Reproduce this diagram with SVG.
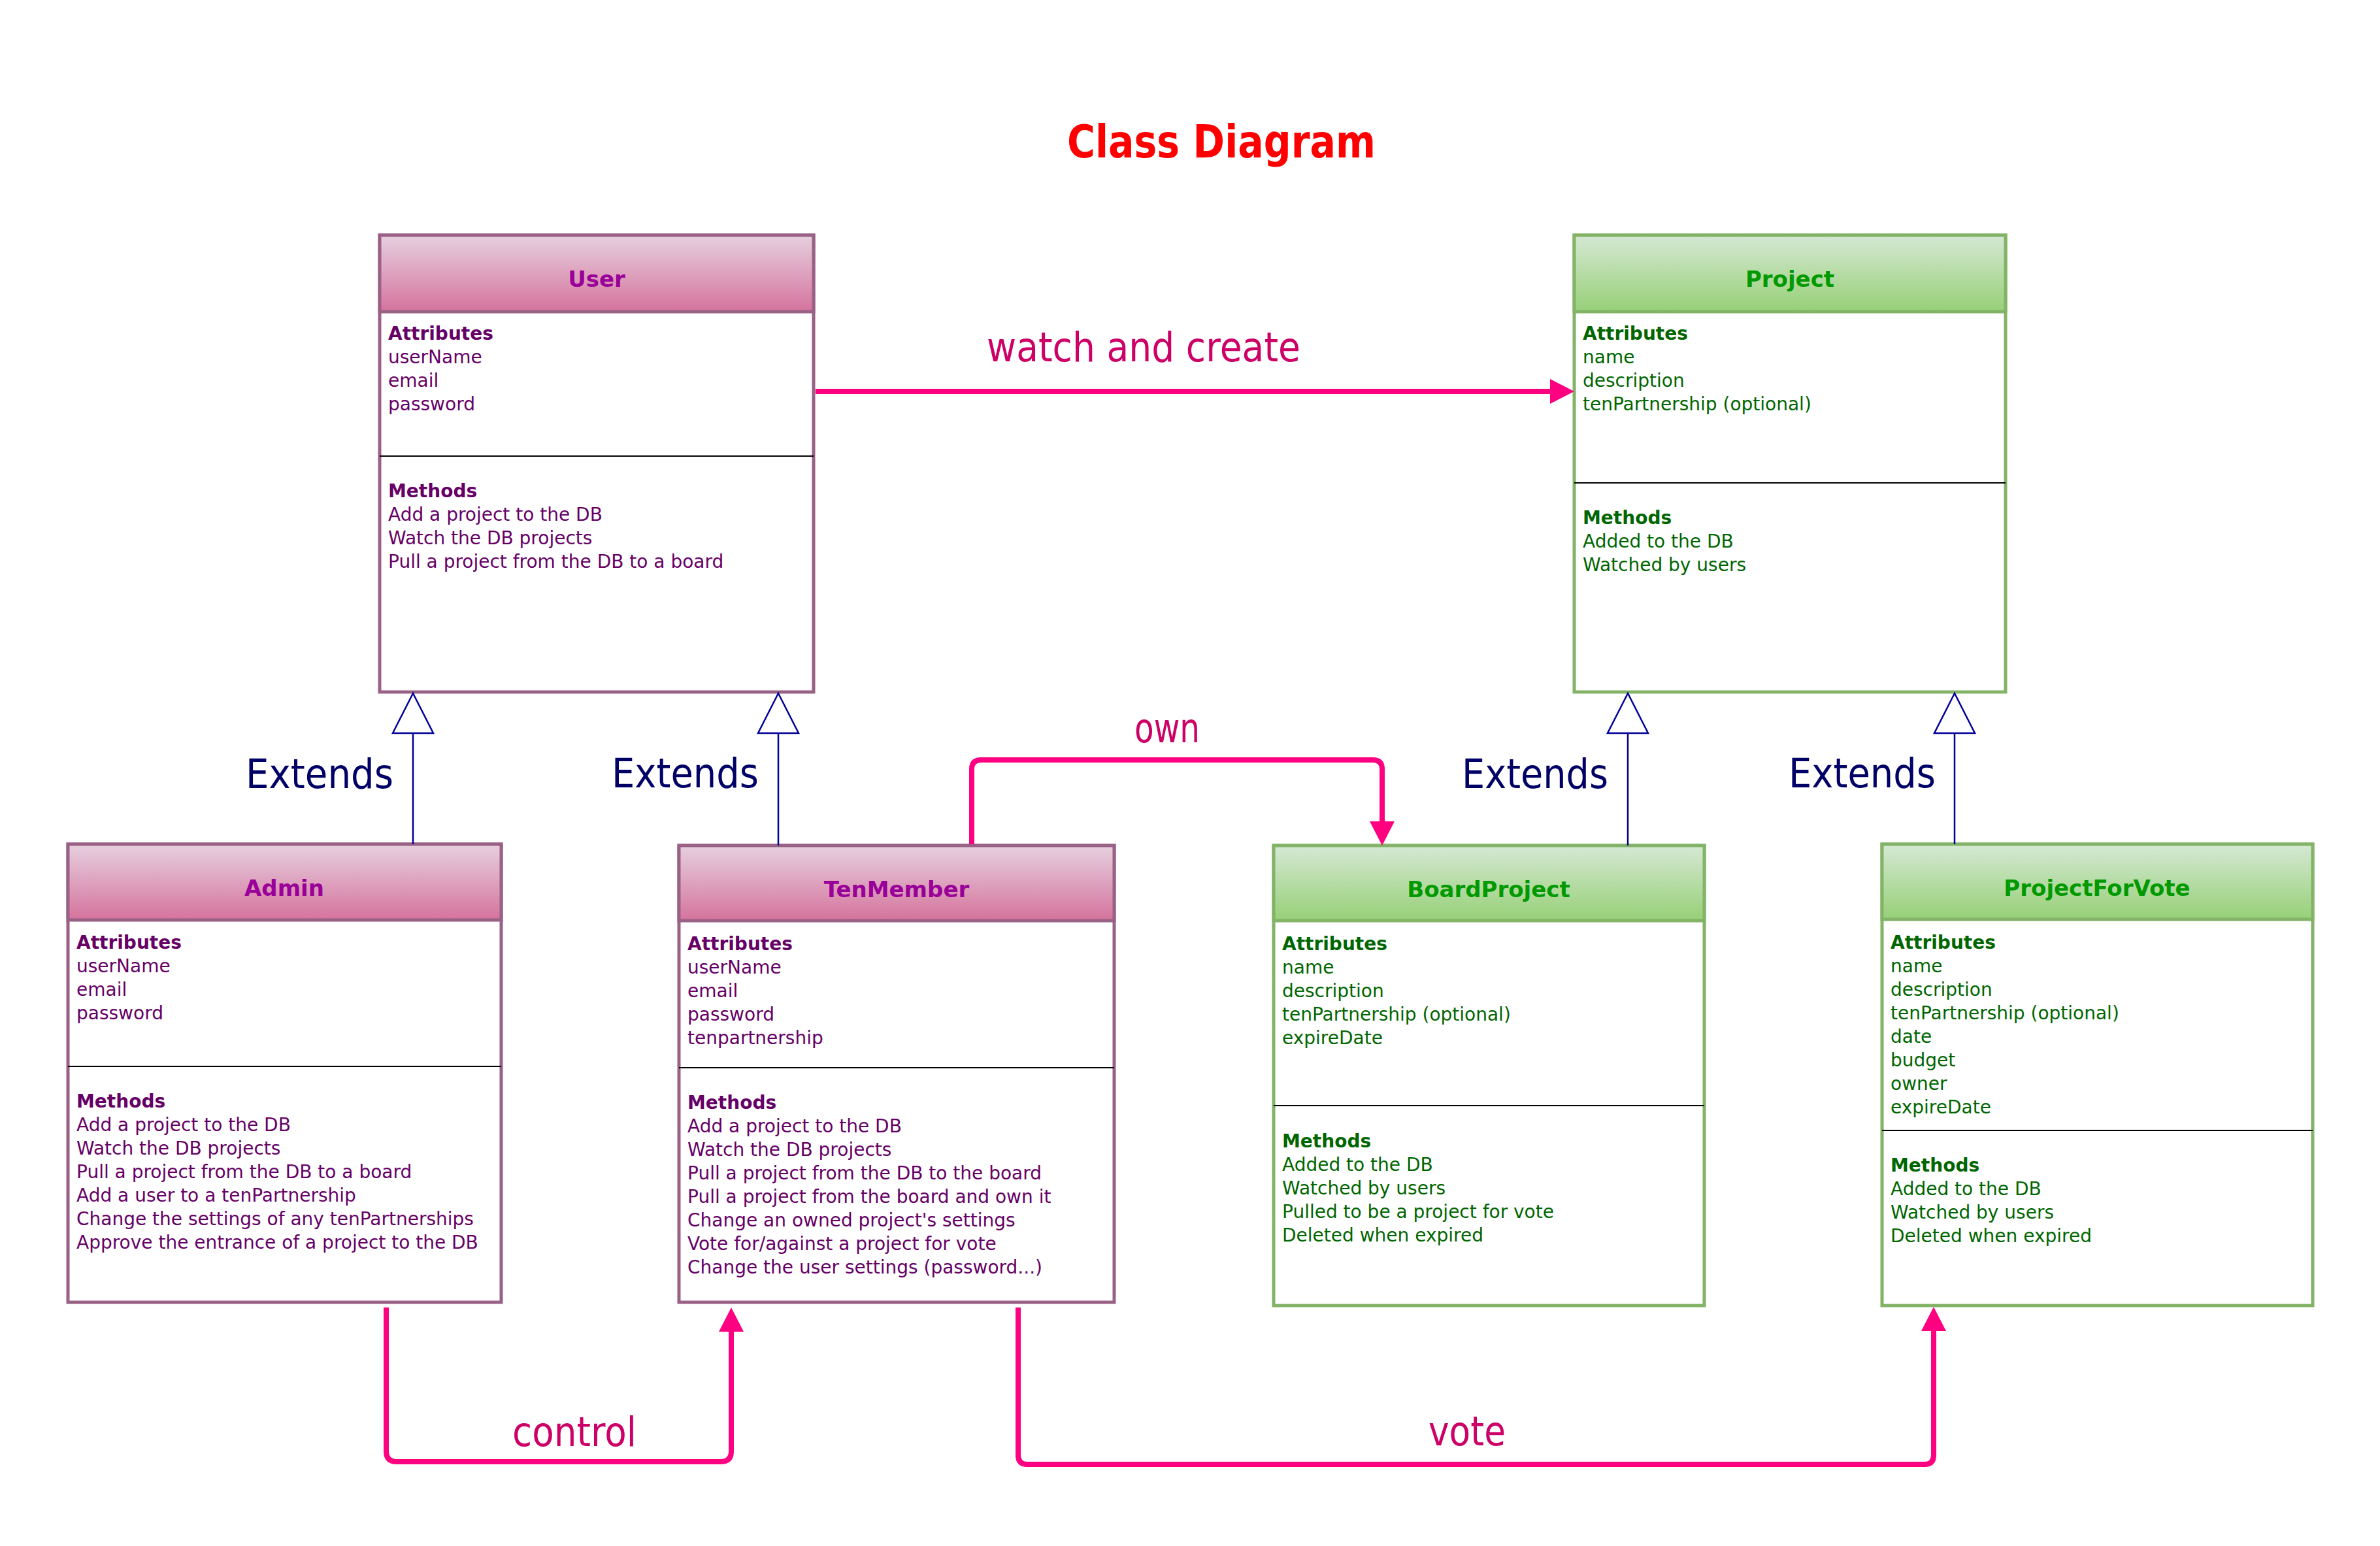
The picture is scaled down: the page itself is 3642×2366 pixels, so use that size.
<svg xmlns="http://www.w3.org/2000/svg" width="3642" height="2366" viewBox="0 0 3642 2366">
<style>
text{font-family:"DejaVu Sans","Liberation Sans",sans-serif}
.bg{fill:#ffffff}
.pk{fill:#ffffff;stroke:#996185;stroke-width:5}
.gr{fill:#ffffff;stroke:#82b366;stroke-width:5}
.pkh{fill:url(#gpk);stroke:#996185;stroke-width:5}
.grh{fill:url(#ggr);stroke:#82b366;stroke-width:5}
.div{stroke:#000000;stroke-width:2}
.tp{font-size:34px;font-weight:bold;fill:#990099;text-anchor:middle}
.tg{font-size:34px;font-weight:bold;fill:#009900;text-anchor:middle}
.bp{font-size:28px;fill:#660066}
.bg2{font-size:28px;fill:#006600}
.b{font-weight:bold}
.con{fill:none;stroke:#ff0080;stroke-width:8;stroke-linejoin:round}
.lbl{font-size:62px;fill:#cc0066}
.ext{fill:none;stroke:#000099;stroke-width:2.5}
.tri{fill:#ffffff;stroke:#000099;stroke-width:2.5;stroke-linejoin:miter}
.extl{font-size:62px;fill:#000066}
.title{font-size:70px;font-weight:bold;fill:#ff0000}
</style>
<defs>
<linearGradient id="gpk" x1="0" y1="0" x2="0" y2="1">
<stop offset="0" stop-color="#e6d0de"/>
<stop offset="1" stop-color="#d5739d"/>
</linearGradient>
<linearGradient id="ggr" x1="0" y1="0" x2="0" y2="1">
<stop offset="0" stop-color="#d5e8d4"/>
<stop offset="1" stop-color="#97d077"/>
</linearGradient>
<marker id="ah" markerUnits="userSpaceOnUse" markerWidth="38" markerHeight="38" refX="0" refY="19" orient="auto" viewBox="0 0 38 38">
<path d="M0,0 L37,19 L0,38 z" fill="#ff0080"/>
</marker>
</defs>
<rect class="bg" x="0" y="0" width="3642" height="2366"/>

<text class="title" x="1869" y="241" text-anchor="middle" textLength="472" lengthAdjust="spacingAndGlyphs">Class Diagram</text>

<g id="User">
<rect class="pk" x="581" y="360" width="664" height="699"/>
<rect class="pkh" x="581" y="360" width="664" height="117"/>
<line class="div" x1="581" y1="698" x2="1245" y2="698"/>
<text class="tp" x="913" y="439">User</text>
<text class="bp"><tspan class="b" x="594" y="520">Attributes</tspan><tspan x="594" y="556">userName</tspan><tspan x="594" y="592">email</tspan><tspan x="594" y="628">password</tspan></text>
<text class="bp"><tspan class="b" x="594" y="761">Methods</tspan><tspan x="594" y="797">Add a project to the DB</tspan><tspan x="594" y="833">Watch the DB projects</tspan><tspan x="594" y="869">Pull a project from the DB to a board</tspan></text>
</g>

<g id="Project">
<rect class="gr" x="2409" y="360" width="660" height="699"/>
<rect class="grh" x="2409" y="360" width="660" height="117"/>
<line class="div" x1="2409" y1="739" x2="3069" y2="739"/>
<text class="tg" x="2739" y="439">Project</text>
<text class="bg2"><tspan class="b" x="2422" y="520">Attributes</tspan><tspan x="2422" y="556">name</tspan><tspan x="2422" y="592">description</tspan><tspan x="2422" y="628">tenPartnership (optional)</tspan></text>
<text class="bg2"><tspan class="b" x="2422" y="802">Methods</tspan><tspan x="2422" y="838">Added to the DB</tspan><tspan x="2422" y="874">Watched by users</tspan></text>
</g>

<g id="Admin">
<rect class="pk" x="104" y="1292" width="663" height="701"/>
<rect class="pkh" x="104" y="1292" width="663" height="116"/>
<line class="div" x1="104" y1="1632" x2="767" y2="1632"/>
<text class="tp" x="435" y="1371">Admin</text>
<text class="bp"><tspan class="b" x="117" y="1452">Attributes</tspan><tspan x="117" y="1488">userName</tspan><tspan x="117" y="1524">email</tspan><tspan x="117" y="1560">password</tspan></text>
<text class="bp"><tspan class="b" x="117" y="1695">Methods</tspan><tspan x="117" y="1731">Add a project to the DB</tspan><tspan x="117" y="1767">Watch the DB projects</tspan><tspan x="117" y="1803">Pull a project from the DB to a board</tspan><tspan x="117" y="1839">Add a user to a tenPartnership</tspan><tspan x="117" y="1875">Change the settings of any tenPartnerships</tspan><tspan x="117" y="1911">Approve the entrance of a project to the DB</tspan></text>
</g>

<g id="TenMember">
<rect class="pk" x="1039" y="1294" width="666" height="699"/>
<rect class="pkh" x="1039" y="1294" width="666" height="115"/>
<line class="div" x1="1039" y1="1634" x2="1705" y2="1634"/>
<text class="tp" x="1372" y="1373">TenMember</text>
<text class="bp"><tspan class="b" x="1052" y="1454">Attributes</tspan><tspan x="1052" y="1490">userName</tspan><tspan x="1052" y="1526">email</tspan><tspan x="1052" y="1562">password</tspan><tspan x="1052" y="1598">tenpartnership</tspan></text>
<text class="bp"><tspan class="b" x="1052" y="1697">Methods</tspan><tspan x="1052" y="1733">Add a project to the DB</tspan><tspan x="1052" y="1769">Watch the DB projects</tspan><tspan x="1052" y="1805">Pull a project from the DB to the board</tspan><tspan x="1052" y="1841">Pull a project from the board and own it</tspan><tspan x="1052" y="1877">Change an owned project's settings</tspan><tspan x="1052" y="1913">Vote for/against a project for vote</tspan><tspan x="1052" y="1949">Change the user settings (password...)</tspan></text>
</g>

<g id="BoardProject">
<rect class="gr" x="1949" y="1294" width="659" height="704"/>
<rect class="grh" x="1949" y="1294" width="659" height="115"/>
<line class="div" x1="1949" y1="1692" x2="2608" y2="1692"/>
<text class="tg" x="2278" y="1373">BoardProject</text>
<text class="bg2"><tspan class="b" x="1962" y="1454">Attributes</tspan><tspan x="1962" y="1490">name</tspan><tspan x="1962" y="1526">description</tspan><tspan x="1962" y="1562">tenPartnership (optional)</tspan><tspan x="1962" y="1598">expireDate</tspan></text>
<text class="bg2"><tspan class="b" x="1962" y="1756">Methods</tspan><tspan x="1962" y="1792">Added to the DB</tspan><tspan x="1962" y="1828">Watched by users</tspan><tspan x="1962" y="1864">Pulled to be a project for vote</tspan><tspan x="1962" y="1900">Deleted when expired</tspan></text>
</g>

<g id="ProjectForVote">
<rect class="gr" x="2880" y="1292" width="659" height="706"/>
<rect class="grh" x="2880" y="1292" width="659" height="115"/>
<line class="div" x1="2880" y1="1730" x2="3539" y2="1730"/>
<text class="tg" x="3209" y="1371">ProjectForVote</text>
<text class="bg2"><tspan class="b" x="2893" y="1452">Attributes</tspan><tspan x="2893" y="1488">name</tspan><tspan x="2893" y="1524">description</tspan><tspan x="2893" y="1560">tenPartnership (optional)</tspan><tspan x="2893" y="1596">date</tspan><tspan x="2893" y="1632">budget</tspan><tspan x="2893" y="1668">owner</tspan><tspan x="2893" y="1704">expireDate</tspan></text>
<text class="bg2"><tspan class="b" x="2893" y="1793">Methods</tspan><tspan x="2893" y="1829">Added to the DB</tspan><tspan x="2893" y="1865">Watched by users</tspan><tspan x="2893" y="1901">Deleted when expired</tspan></text>
</g>

<g id="connectors">
<path class="con" d="M1248,599 H2372" marker-end="url(#ah)"/>
<text class="lbl" x="1510" y="553" textLength="480" lengthAdjust="spacingAndGlyphs">watch and create</text>

<path class="con" d="M1487,1292 V1177 Q1487,1163 1501,1163 H2101 Q2115,1163 2115,1177 V1257" marker-end="url(#ah)"/>
<text class="lbl" x="1736" y="1136" textLength="100" lengthAdjust="spacingAndGlyphs">own</text>

<path class="con" d="M591,2001 V2221 Q591,2237 607,2237 H1103 Q1119,2237 1119,2221 V2038" marker-end="url(#ah)"/>
<text class="lbl" x="784" y="2213" textLength="190" lengthAdjust="spacingAndGlyphs">control</text>

<path class="con" d="M1558,2001 V2227 Q1558,2241 1572,2241 H2945 Q2959,2241 2959,2227 V2037" marker-end="url(#ah)"/>
<text class="lbl" x="2186" y="2212" textLength="118" lengthAdjust="spacingAndGlyphs">vote</text>

<path class="ext" d="M632,1122 V1292"/>
<path class="tri" d="M632,1061 L601,1122 L663,1122 Z"/>
<text class="extl" x="376" y="1206" textLength="226" lengthAdjust="spacingAndGlyphs">Extends</text>

<path class="ext" d="M1191,1122 V1294"/>
<path class="tri" d="M1191,1061 L1160,1122 L1222,1122 Z"/>
<text class="extl" x="936" y="1205" textLength="225" lengthAdjust="spacingAndGlyphs">Extends</text>

<path class="ext" d="M2491,1122 V1294"/>
<path class="tri" d="M2491,1061 L2460,1122 L2522,1122 Z"/>
<text class="extl" x="2237" y="1206" textLength="224" lengthAdjust="spacingAndGlyphs">Extends</text>

<path class="ext" d="M2991,1122 V1292"/>
<path class="tri" d="M2991,1061 L2960,1122 L3022,1122 Z"/>
<text class="extl" x="2737" y="1205" textLength="225" lengthAdjust="spacingAndGlyphs">Extends</text>
</g>
</svg>
